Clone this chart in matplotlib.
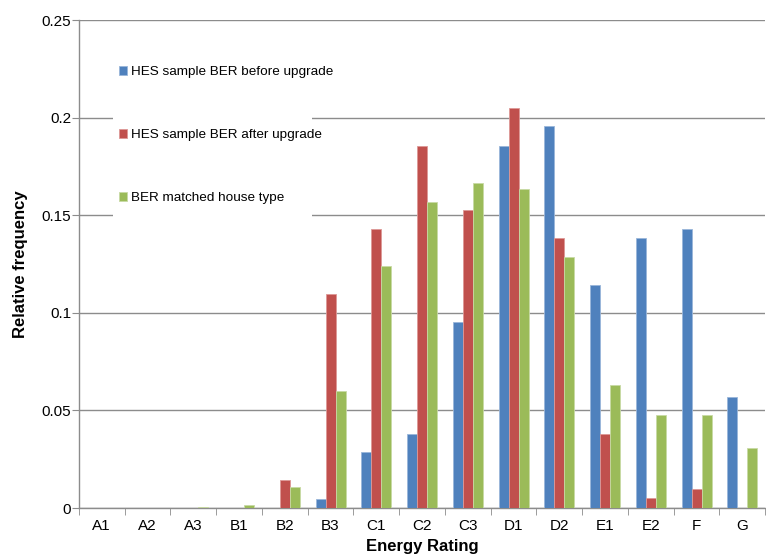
import matplotlib
matplotlib.use("Agg")
import matplotlib.pyplot as plt
from matplotlib.patches import Rectangle
import numpy as np

ratings = ["A1", "A2", "A3", "B1", "B2", "B3", "C1", "C2", "C3", "D1", "D2", "E1", "E2", "F", "G"]
before_upgrade = [0, 0, 0, 0, 0, 0.0048, 0.0287, 0.038, 0.0954, 0.1857, 0.1957, 0.1143, 0.1384, 0.143, 0.057]
after_upgrade = [0, 0, 0, 0, 0.0145, 0.1096, 0.143, 0.1857, 0.1526, 0.2051, 0.1384, 0.038, 0.0049, 0.0097, 0]
matched_type = [0, 0, 0.0005, 0.0015, 0.0109, 0.060, 0.124, 0.1568, 0.1664, 0.1636, 0.1285, 0.063, 0.0476, 0.0476, 0.0309]
series_names = ["HES sample BER before upgrade", "HES sample BER after upgrade", "BER matched house type"]
yticks = [0, 0.05, 0.1, 0.15, 0.2, 0.25]
ytick_labels = ["0", "0.05", "0.1", "0.15", "0.2", "0.25"]

colors = ["#4F81BD", "#C0504D", "#9BBB59"]
edges = ["#9AB6DA", "#DD9896", "#C8DAA4"]

plt.rcParams["font.family"] = ["Liberation Sans", "DejaVu Sans"]

fig = plt.figure(figsize=(7.66, 5.58), dpi=100)
ax = fig.add_axes([0.103, 0.0896, 0.896, 0.8744])

x = np.arange(len(ratings))
w = 0.218
for i, (vals, name) in enumerate(zip([before_upgrade, after_upgrade, matched_type], series_names)):
    ax.bar(x + (i - 1) * w, vals, width=w, color=colors[i], edgecolor=edges[i],
           linewidth=0.6, label=name, zorder=3)

ax.set_xlim(-0.5, len(ratings) - 0.5)
ax.set_ylim(0, 0.25)
ax.set_yticks(yticks)
ax.set_yticklabels(ytick_labels, fontsize=11)
ax.set_xticks(x)
ax.set_xticklabels(ratings, fontsize=11)
ax.set_xticks(np.arange(-0.5, len(ratings), 1), minor=True)
ax.tick_params(axis="x", which="major", length=0, pad=8)
ax.tick_params(axis="x", which="minor", length=5, color="#8c8c8c", direction="out")
ax.tick_params(axis="y", length=5, color="#8c8c8c", pad=0.5)

ax.yaxis.grid(True, color="#8c8c8c", linewidth=1, zorder=0)
ax.set_axisbelow(True)
for s in ["top", "right"]:
    ax.spines[s].set_visible(False)
for s in ["left", "bottom"]:
    ax.spines[s].set_color("#8c8c8c")
    ax.spines[s].set_linewidth(1)

ax.set_ylabel("Relative frequency", fontsize=12, fontweight="bold", labelpad=10)
ax.set_xlabel("Energy Rating", fontsize=12, fontweight="bold", labelpad=4)

# white legend area that blanks out the gridlines behind it
ax.add_patch(Rectangle((0.0495, 0.57), 0.29, 0.385, transform=ax.transAxes,
                       facecolor="white", edgecolor="none", zorder=2))

leg = ax.legend(loc="upper left", bbox_to_anchor=(0.058, 0.906), frameon=False,
                fontsize=9.7, handlelength=0.6, handleheight=0.6, handletextpad=0.3,
                labelspacing=3.8, borderpad=0, borderaxespad=0)
leg.set_zorder(4)

fig.savefig("out.png", dpi=100)
